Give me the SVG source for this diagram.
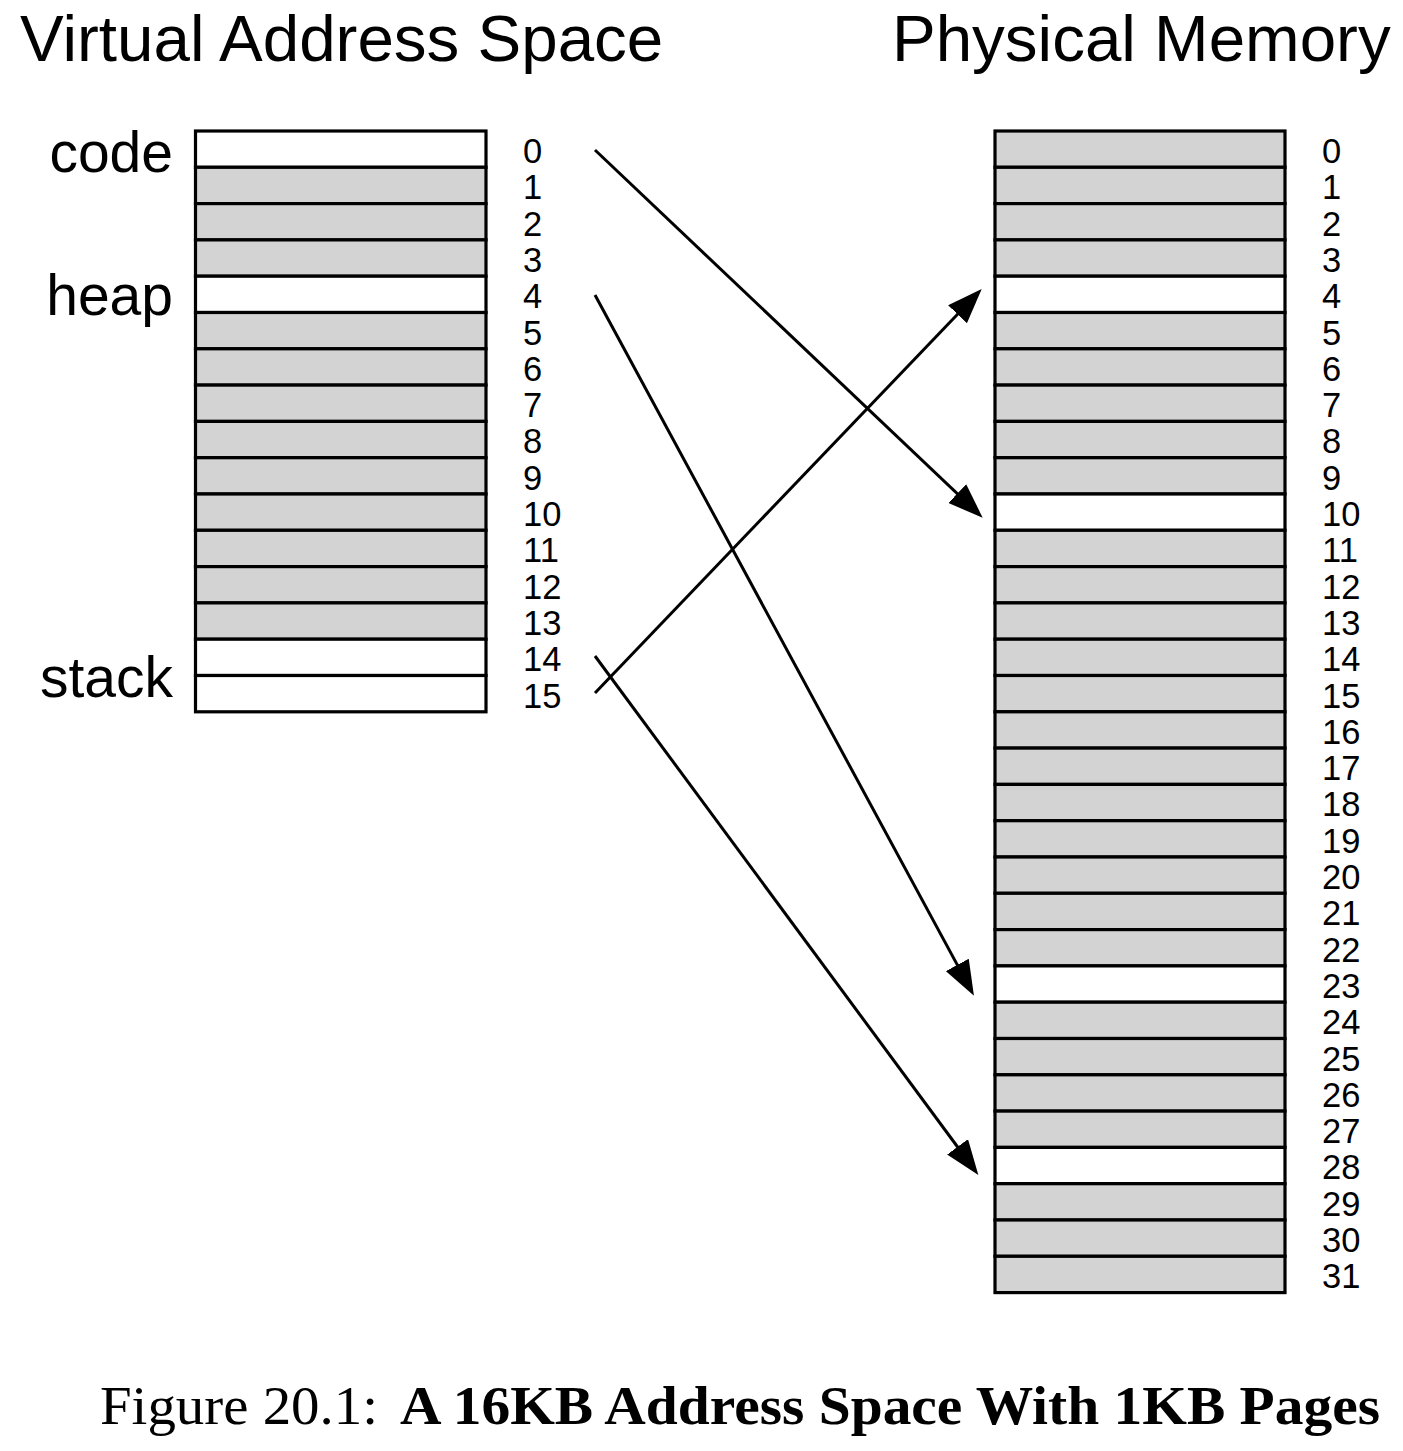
<svg xmlns="http://www.w3.org/2000/svg" width="1403" height="1451" viewBox="0 0 1403 1451">
<style>
.bg{fill:#ffffff}
.g{fill:#d3d3d3;stroke:#000;stroke-width:3.2}
.w{fill:#ffffff;stroke:#000;stroke-width:3.2}
.title{font-family:"Liberation Sans",Arial,sans-serif;font-size:65.5px;fill:#000}
.lab{font-family:"Liberation Sans",Arial,sans-serif;font-size:57px;fill:#000;text-anchor:end}
.num{font-family:"Liberation Sans",Arial,sans-serif;font-size:34.5px;fill:#000}
.cap{font-family:"Liberation Serif","Times New Roman",serif;font-size:55px;fill:#000}
.conn{stroke:#000;stroke-width:3;fill:none;marker-end:url(#ah)}
</style>
<defs>
<marker id="ah" markerUnits="userSpaceOnUse" viewBox="0 0 35 26" refX="25" refY="13" markerWidth="35" markerHeight="26" orient="auto">
<path d="M0,0 L35,13 L0,26 Z" fill="#000"/>
</marker>
</defs>
<rect class="bg" x="0" y="0" width="1403" height="1451"/>
<text class="title" x="20" y="61">Virtual Address Space</text>
<text class="title" x="892" y="61">Physical Memory</text>
<g id="labels">
<text class="lab" x="173" y="172">code</text>
<text class="lab" x="173" y="315">heap</text>
<text class="lab" x="173" y="697">stack</text>
</g>
<g id="virtual">
<rect class="w" x="195.5" y="131" width="290.5" height="36.3"/>
<rect class="g" x="195.5" y="167.3" width="290.5" height="36.3"/>
<rect class="g" x="195.5" y="203.6" width="290.5" height="36.3"/>
<rect class="g" x="195.5" y="239.9" width="290.5" height="36.3"/>
<rect class="w" x="195.5" y="276.2" width="290.5" height="36.3"/>
<rect class="g" x="195.5" y="312.5" width="290.5" height="36.3"/>
<rect class="g" x="195.5" y="348.8" width="290.5" height="36.3"/>
<rect class="g" x="195.5" y="385.1" width="290.5" height="36.3"/>
<rect class="g" x="195.5" y="421.4" width="290.5" height="36.3"/>
<rect class="g" x="195.5" y="457.7" width="290.5" height="36.3"/>
<rect class="g" x="195.5" y="494" width="290.5" height="36.3"/>
<rect class="g" x="195.5" y="530.3" width="290.5" height="36.3"/>
<rect class="g" x="195.5" y="566.6" width="290.5" height="36.3"/>
<rect class="g" x="195.5" y="602.9" width="290.5" height="36.3"/>
<rect class="w" x="195.5" y="639.2" width="290.5" height="36.3"/>
<rect class="w" x="195.5" y="675.5" width="290.5" height="36.3"/>
</g>
<g id="virtual-numbers">
<text class="num" x="523" y="163">0</text>
<text class="num" x="523" y="199.3">1</text>
<text class="num" x="523" y="235.6">2</text>
<text class="num" x="523" y="271.9">3</text>
<text class="num" x="523" y="308.2">4</text>
<text class="num" x="523" y="344.5">5</text>
<text class="num" x="523" y="380.8">6</text>
<text class="num" x="523" y="417.1">7</text>
<text class="num" x="523" y="453.4">8</text>
<text class="num" x="523" y="489.7">9</text>
<text class="num" x="523" y="526">10</text>
<text class="num" x="523" y="562.3">11</text>
<text class="num" x="523" y="598.6">12</text>
<text class="num" x="523" y="634.9">13</text>
<text class="num" x="523" y="671.2">14</text>
<text class="num" x="523" y="707.5">15</text>
</g>
<g id="physical">
<rect class="g" x="995" y="131" width="290" height="36.3"/>
<rect class="g" x="995" y="167.3" width="290" height="36.3"/>
<rect class="g" x="995" y="203.6" width="290" height="36.3"/>
<rect class="g" x="995" y="239.9" width="290" height="36.3"/>
<rect class="w" x="995" y="276.2" width="290" height="36.3"/>
<rect class="g" x="995" y="312.5" width="290" height="36.3"/>
<rect class="g" x="995" y="348.8" width="290" height="36.3"/>
<rect class="g" x="995" y="385.1" width="290" height="36.3"/>
<rect class="g" x="995" y="421.4" width="290" height="36.3"/>
<rect class="g" x="995" y="457.7" width="290" height="36.3"/>
<rect class="w" x="995" y="494" width="290" height="36.3"/>
<rect class="g" x="995" y="530.3" width="290" height="36.3"/>
<rect class="g" x="995" y="566.6" width="290" height="36.3"/>
<rect class="g" x="995" y="602.9" width="290" height="36.3"/>
<rect class="g" x="995" y="639.2" width="290" height="36.3"/>
<rect class="g" x="995" y="675.5" width="290" height="36.3"/>
<rect class="g" x="995" y="711.8" width="290" height="36.3"/>
<rect class="g" x="995" y="748.1" width="290" height="36.3"/>
<rect class="g" x="995" y="784.4" width="290" height="36.3"/>
<rect class="g" x="995" y="820.7" width="290" height="36.3"/>
<rect class="g" x="995" y="857" width="290" height="36.3"/>
<rect class="g" x="995" y="893.3" width="290" height="36.3"/>
<rect class="g" x="995" y="929.6" width="290" height="36.3"/>
<rect class="w" x="995" y="965.9" width="290" height="36.3"/>
<rect class="g" x="995" y="1002.2" width="290" height="36.3"/>
<rect class="g" x="995" y="1038.5" width="290" height="36.3"/>
<rect class="g" x="995" y="1074.8" width="290" height="36.3"/>
<rect class="g" x="995" y="1111.1" width="290" height="36.3"/>
<rect class="w" x="995" y="1147.4" width="290" height="36.3"/>
<rect class="g" x="995" y="1183.7" width="290" height="36.3"/>
<rect class="g" x="995" y="1220" width="290" height="36.3"/>
<rect class="g" x="995" y="1256.3" width="290" height="36.3"/>
</g>
<g id="physical-numbers">
<text class="num" x="1322" y="163">0</text>
<text class="num" x="1322" y="199.3">1</text>
<text class="num" x="1322" y="235.6">2</text>
<text class="num" x="1322" y="271.9">3</text>
<text class="num" x="1322" y="308.2">4</text>
<text class="num" x="1322" y="344.5">5</text>
<text class="num" x="1322" y="380.8">6</text>
<text class="num" x="1322" y="417.1">7</text>
<text class="num" x="1322" y="453.4">8</text>
<text class="num" x="1322" y="489.7">9</text>
<text class="num" x="1322" y="526">10</text>
<text class="num" x="1322" y="562.3">11</text>
<text class="num" x="1322" y="598.6">12</text>
<text class="num" x="1322" y="634.9">13</text>
<text class="num" x="1322" y="671.2">14</text>
<text class="num" x="1322" y="707.5">15</text>
<text class="num" x="1322" y="743.8">16</text>
<text class="num" x="1322" y="780.1">17</text>
<text class="num" x="1322" y="816.4">18</text>
<text class="num" x="1322" y="852.7">19</text>
<text class="num" x="1322" y="889">20</text>
<text class="num" x="1322" y="925.3">21</text>
<text class="num" x="1322" y="961.6">22</text>
<text class="num" x="1322" y="997.9">23</text>
<text class="num" x="1322" y="1034.2">24</text>
<text class="num" x="1322" y="1070.5">25</text>
<text class="num" x="1322" y="1106.8">26</text>
<text class="num" x="1322" y="1143.1">27</text>
<text class="num" x="1322" y="1179.4">28</text>
<text class="num" x="1322" y="1215.7">29</text>
<text class="num" x="1322" y="1252">30</text>
<text class="num" x="1322" y="1288.3">31</text>
</g>
<g id="connectors">
<line class="conn" x1="595" y1="150" x2="975.4" y2="510.8"/>
<line class="conn" x1="595" y1="295" x2="969.2" y2="986.9"/>
<line class="conn" x1="595" y1="656" x2="972.4" y2="1167"/>
<line class="conn" x1="595" y1="693" x2="974.8" y2="296.2"/>
</g>
<g id="caption">
<text class="cap" x="100" y="1424" textLength="278" lengthAdjust="spacingAndGlyphs">Figure 20.1:</text>
<text class="cap" x="400" y="1424" font-weight="bold" textLength="980" lengthAdjust="spacingAndGlyphs">A 16KB Address Space With 1KB Pages</text>
</g>
</svg>
